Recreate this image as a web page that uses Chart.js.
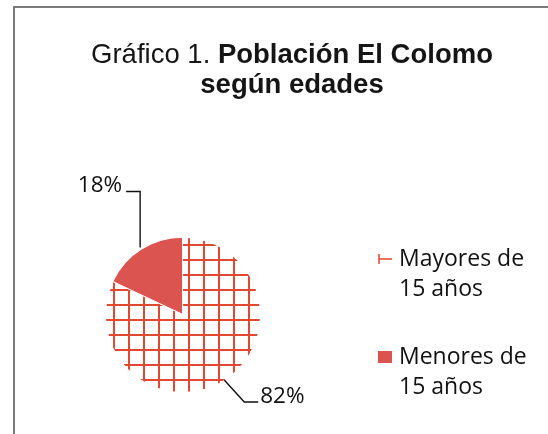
<!DOCTYPE html>
<html lang="es">
<head>
<meta charset="utf-8">
<title>Población El Colomo según edades</title>
<script src="https://cdn.jsdelivr.net/npm/chart.js@4.4.1/dist/chart.umd.min.js"></script>
<style>
  html, body { margin: 0; padding: 0; background: #fff; }
  #wrap { position: relative; width: 548px; height: 434px; }
</style>
</head>
<body>
<div id="wrap"><canvas id="pieChart"></canvas></div>
<script>
// Chart data
const categories = [['Mayores de', '15 años'], ['Menores de', '15 años']];
const shares = [82, 18];
const shareLabels = ['82%', '18%'];
const titleLead = 'Gráfico 1. ';
const titleBold = 'Población El Colomo';
const titleLine2 = 'según edades';

const RED = '#dc5450';
const GRID = '#e2472f';
const labelFont = '"Open Sans", sans-serif';

// large grid hatch for the big slice
function makeGrid() {
    const c = document.createElement('canvas');
    c.width = 15;
    c.height = 15;
    const g = c.getContext('2d');
    g.fillStyle = '#fff';
    g.fillRect(0, 0, 15, 15);
    g.fillStyle = GRID;
    g.fillRect(8, 0, 2, 15);
    g.fillRect(0, 4, 15, 2);
    return g.createPattern(c, 'repeat');
}

const framePlugin = {
    id: 'frame',
    beforeDraw(chart) {
        const ctx = chart.ctx;
        ctx.save();
        ctx.fillStyle = '#fff';
        ctx.fillRect(0, 0, chart.width, chart.height);
        ctx.strokeStyle = '#7b7b7b';
        ctx.lineWidth = 2;
        ctx.beginPath();
        ctx.moveTo(14, chart.height);
        ctx.lineTo(14, 7);
        ctx.lineTo(chart.width, 7);
        ctx.stroke();
        ctx.restore();
    }
};

const titlePlugin = {
    id: 'mixedTitle',
    afterDraw(chart) {
        const ctx = chart.ctx;
        const cx = 292;
        const reg = '27.5px "Liberation Sans", Arial, sans-serif';
        const bold = 'bold 27.5px "Liberation Sans", Arial, sans-serif';
        ctx.save();
        ctx.fillStyle = '#151515';
        ctx.textBaseline = 'alphabetic';
        ctx.font = reg;
        const w1 = ctx.measureText(titleLead).width;
        ctx.font = bold;
        const w2 = ctx.measureText(titleBold).width;
        const x = cx - (w1 + w2) / 2;
        ctx.textAlign = 'left';
        ctx.font = reg;
        ctx.fillText(titleLead, x, 63);
        ctx.font = bold;
        ctx.fillText(titleBold, x + w1, 63);
        ctx.textAlign = 'center';
        ctx.fillText(titleLine2, cx, 93);
        ctx.restore();
    }
};

// leader lines: first leg (dx, dy) from the slice edge, then a flat run
const leaders = [
    { dx: 20, dy: 22, run: 14 },
    { dx: 0, dy: -56, run: -14 }
];

const labelPlugin = {
    id: 'sliceLabels',
    afterDatasetsDraw(chart) {
        const ctx = chart.ctx;
        const meta = chart.getDatasetMeta(0);
        ctx.save();
        ctx.strokeStyle = '#111';
        ctx.fillStyle = '#111';
        ctx.lineWidth = 1.4;
        ctx.font = '22.5px ' + labelFont;
        ctx.textBaseline = 'alphabetic';
        meta.data.forEach((arc, i) => {
            const p = arc.getProps(['x', 'y', 'startAngle', 'endAngle', 'outerRadius']);
            const mid = (p.startAngle + p.endAngle) / 2;
            const r = p.outerRadius + (arc.options.offset || 0);
            const ex = p.x + Math.cos(mid) * r;
            const ey = p.y + Math.sin(mid) * r;
            const l = leaders[i];
            const bx = ex + l.dx, by = ey + l.dy;
            const tx = bx + l.run;
            ctx.beginPath();
            ctx.moveTo(ex, ey);
            ctx.lineTo(bx, by);
            ctx.lineTo(tx, by);
            ctx.stroke();
            ctx.textAlign = l.run > 0 ? 'left' : 'right';
            ctx.fillText(shareLabels[i], tx + (l.run > 0 ? 2 : -4), by + 1);
        });
        ctx.restore();
    }
};

// legend on the right, one swatch per category, two-line labels
const legendPlugin = {
    id: 'sideLegend',
    afterDraw(chart) {
        const ctx = chart.ctx;
        const x0 = 378, top = 259, step = 98, lineH = 30;
        ctx.save();
        chart.data.labels.forEach((lines, i) => {
            const y = top + i * step;
            if (i === 0) {
                ctx.strokeStyle = GRID;
                ctx.lineWidth = 1.5;
                ctx.beginPath();
                ctx.moveTo(x0 + 1, y - 5);
                ctx.lineTo(x0 + 1, y + 5);
                ctx.moveTo(x0 + 1, y);
                ctx.lineTo(x0 + 14, y);
                ctx.stroke();
            } else {
                ctx.fillStyle = RED;
                ctx.fillRect(x0, y - 6, 14, 12);
            }
            ctx.fillStyle = '#111';
            ctx.font = '23px ' + labelFont;
            ctx.textAlign = 'left';
            ctx.textBaseline = 'middle';
            lines.forEach((s, k) => ctx.fillText(s, x0 + 21, y + k * lineH));
        });
        ctx.restore();
    }
};

new Chart(document.getElementById('pieChart'), {
    type: 'pie',
    data: {
        labels: categories,
        datasets: [{
            data: shares,
            backgroundColor: [makeGrid(), RED],
            borderColor: '#fff',
            borderWidth: [0, 1],
            offset: [0, 3],
            hoverOffset: 0
        }]
    },
    options: {
        responsive: true,
        maintainAspectRatio: false,
        animation: false,
        layout: {
            padding: { left: 104, right: 286, top: 236, bottom: 40 }
        },
        plugins: {
            legend: { display: false },
            tooltip: { enabled: false }
        }
    },
    plugins: [framePlugin, labelPlugin, legendPlugin, titlePlugin]
});
</script>
</body>
</html>
